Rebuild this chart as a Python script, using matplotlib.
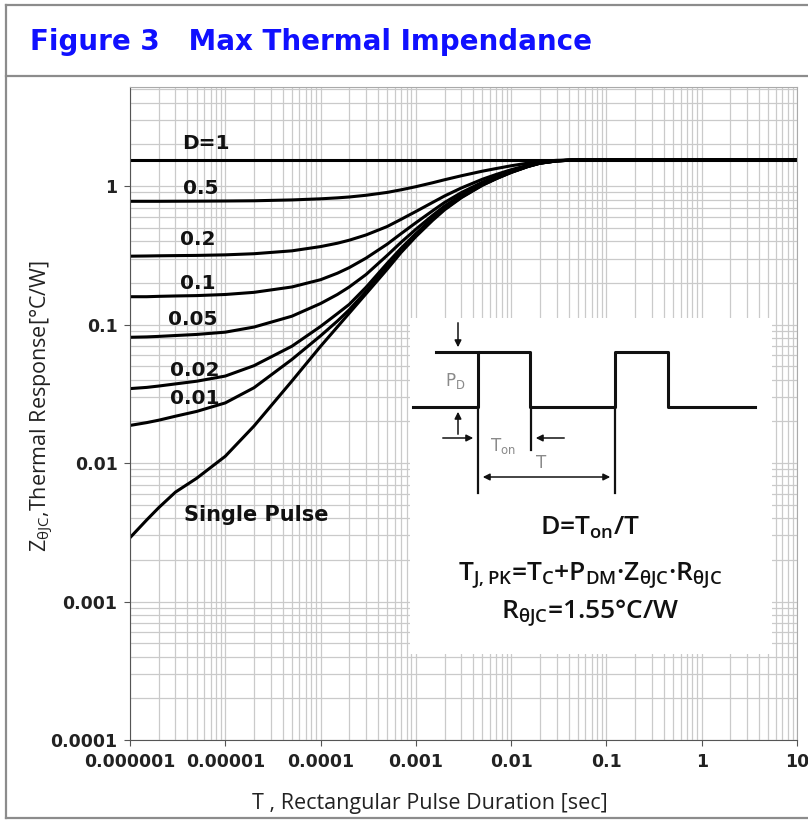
import numpy as np
import matplotlib
matplotlib.use("Agg")
import matplotlib.pyplot as plt
from matplotlib.ticker import LogLocator, NullFormatter
from matplotlib.patches import Rectangle

plt.rcParams['mathtext.default'] = 'regular'

# pulse duration [s]
t_pts = [1e-6, 1.5e-6, 2e-6, 3e-6, 5e-6, 1e-5, 2e-5, 5e-5, 1e-4, 1.5e-4, 2e-4, 3e-4, 5e-4,
         7e-4, 1e-3, 1.5e-3, 2e-3, 3e-3, 5e-3, 7e-3, 1e-2, 1.5e-2, 2e-2, 3e-2, 5e-2, 10]

# thermal response Z [°C/W] per duty cycle
z_d1 = [1.55] * len(t_pts)
z_d05 = [0.777, 0.777, 0.777, 0.778, 0.779, 0.781, 0.784, 0.795, 0.810, 0.823, 0.835, 0.859, 0.901,
         0.941, 0.991, 1.058, 1.112, 1.188, 1.283, 1.341, 1.403, 1.467, 1.506, 1.536, 1.550, 1.55]
z_d02 = [0.312, 0.313, 0.314, 0.315, 0.316, 0.319, 0.325, 0.341, 0.366, 0.387, 0.407, 0.444, 0.511,
         0.576, 0.656, 0.763, 0.849, 0.970, 1.122, 1.216, 1.314, 1.417, 1.480, 1.527, 1.549, 1.55]
z_d01 = [0.159, 0.159, 0.160, 0.161, 0.162, 0.165, 0.171, 0.187, 0.211, 0.235, 0.258, 0.302, 0.381,
         0.454, 0.544, 0.664, 0.762, 0.898, 1.069, 1.174, 1.285, 1.402, 1.472, 1.525, 1.549, 1.55]
z_d005 = [0.081, 0.0815, 0.0822, 0.0834, 0.0849, 0.0882, 0.096, 0.115, 0.142, 0.165, 0.187, 0.230, 0.316,
          0.393, 0.488, 0.615, 0.718, 0.861, 1.042, 1.153, 1.270, 1.392, 1.466, 1.522, 1.549, 1.55]
z_d002 = [0.0345, 0.0352, 0.036, 0.0373, 0.039, 0.0425, 0.0505, 0.0698, 0.097, 0.120, 0.140, 0.186, 0.277,
          0.356, 0.454, 0.586, 0.692, 0.840, 1.026, 1.140, 1.261, 1.390, 1.466, 1.522, 1.549, 1.55]
z_d001 = [0.0187, 0.0196, 0.0204, 0.0218, 0.0236, 0.0272, 0.035, 0.056, 0.083, 0.106, 0.128, 0.174, 0.264,
          0.344, 0.443, 0.576, 0.683, 0.832, 1.020, 1.136, 1.258, 1.387, 1.464, 1.521, 1.549, 1.55]
z_single = [0.00289, 0.00389, 0.00476, 0.00617, 0.00776, 0.0112, 0.0185, 0.0391, 0.0697, 0.0962, 0.121,
            0.167, 0.251, 0.332, 0.432, 0.566, 0.674, 0.825, 1.015, 1.132, 1.255, 1.384, 1.462, 1.521,
            1.549, 1.55]

curves = [z_d1, z_d05, z_d02, z_d01, z_d005, z_d002, z_d001, z_single]

# curve labels: text, x, y (data coords)
label_txt = ["D=1", "0.5", "0.2", "0.1", "0.05", "0.02", "0.01", "Single Pulse"]
label_x = [6.2e-6, 5.5e-6, 5.1e-6, 5.1e-6, 4.6e-6, 4.8e-6, 4.8e-6, 2.1e-5]
label_y = [2.04, 0.967, 0.414, 0.1995, 0.108, 0.0469, 0.0295, 0.0042]

x_ticks = [1e-6, 1e-5, 1e-4, 1e-3, 1e-2, 1e-1, 1, 10]
x_tick_labels = ["0.000001", "0.00001", "0.0001", "0.001", "0.01", "0.1", "1", "10"]
y_ticks = [1e-4, 1e-3, 1e-2, 1e-1, 1]
y_tick_labels = ["0.0001", "0.001", "0.01", "0.1", "1"]

W, H = 808, 821
fig = plt.figure(figsize=(W / 100, H / 100), dpi=100)
fig.patch.set_facecolor('white')

ax = fig.add_axes([130 / W, 1 - 740 / H, 667 / W, 653 / H])
for z in curves:
    ax.plot(t_pts, z, color='black', lw=2.2, solid_joinstyle='round')

ax.set_xscale('log')
ax.set_yscale('log')
ax.set_xlim(1e-6, 10)
ax.set_ylim(1e-4, 5.2)
ax.xaxis.set_minor_locator(LogLocator(base=10, subs=np.arange(2, 10), numticks=100))
ax.yaxis.set_minor_locator(LogLocator(base=10, subs=np.arange(2, 10), numticks=100))
ax.xaxis.set_minor_formatter(NullFormatter())
ax.yaxis.set_minor_formatter(NullFormatter())
ax.set_xticks(x_ticks, x_tick_labels)
ax.set_yticks(y_ticks, y_tick_labels)
ax.grid(which='both', color='#cacaca', lw=0.9)
ax.set_axisbelow(True)
ax.tick_params(which='major', direction='out', length=4, color='#555555',
               labelsize=12.5, pad=5)
ax.tick_params(which='minor', length=0)
for lab in ax.get_xticklabels() + ax.get_yticklabels():
    lab.set_fontweight('bold')
    lab.set_color('#222222')
for s in ['left', 'bottom']:
    ax.spines[s].set_color('#555555')
for s in ['top', 'right']:
    ax.spines[s].set_color('#aaaaaa')

for txt, lx, ly in zip(label_txt, label_x, label_y):
    fs = 15 if txt == "Single Pulse" else 14.5
    ax.text(lx, ly, txt, ha='center', va='center', fontsize=fs,
            fontweight='bold', color='#111111', zorder=4)

# overlay in pixel coords for frame, title and pulse diagram
ov = fig.add_axes([0, 0, 1, 1], zorder=5)
ov.set_xlim(0, W)
ov.set_ylim(H, 0)
ov.axis('off')
ov.patch.set_alpha(0)

frame = dict(color='#8c8c8c', lw=1.6)
ov.plot([6, 6], [5, 818], **frame)
ov.plot([6, W], [5, 5], **frame)
ov.plot([6, W], [818, 818], **frame)
ov.plot([6, W], [76, 76], **frame)

ov.text(30, 42, "Figure 3   Max Thermal Impendance", fontsize=20,
        fontweight='bold', color='#1010ff', ha='left', va='center')

fig.text(430 / W, 1 - 803 / H, "T , Rectangular Pulse Duration [sec]",
         family='Open Sans', fontsize=15.5, ha='center', va='center',
         color='#222222')
fig.text(42 / W, 1 - 406 / H, "Z$_{θJC}$,Thermal Response[°C/W]",
         family='Open Sans', fontsize=15.5, rotation=90, ha='center',
         va='center', color='#222222')

# white inset with pulse diagram
ov.add_patch(Rectangle((410, 318), 362, 336, facecolor='white', edgecolor='none'))
wave_x = [413, 478, 478, 530, 530, 615, 615, 668, 668, 755]
wave_y = [407, 407, 352, 352, 407, 407, 352, 352, 407, 407]
lk = dict(color='#111111', lw=2.2)
ov.plot(wave_x, wave_y, **lk)
ov.plot([436, 478], [352, 352], **lk)
ov.plot([478, 478], [407, 493], color='#111111', lw=1.6)
ov.plot([531, 531], [407, 450], color='#111111', lw=1.6)
ov.plot([615, 615], [407, 493], color='#111111', lw=1.6)

arr = dict(arrowstyle='-|>', color='#111111', lw=1.1, mutation_scale=10)
ov.annotate('', xy=(458, 350), xytext=(458, 320), arrowprops=arr)
ov.annotate('', xy=(458, 409), xytext=(458, 437), arrowprops=arr)
ov.annotate('', xy=(476, 438), xytext=(440, 438), arrowprops=arr)
ov.annotate('', xy=(533, 438), xytext=(567, 438), arrowprops=arr)
ov.annotate('', xy=(613, 477), xytext=(480, 477),
            arrowprops=dict(arrowstyle='<|-|>', color='#111111', lw=1.1,
                            mutation_scale=10))

gray = '#8a8a8a'
ov.text(455, 381, "P$_D$", fontsize=12, color=gray, ha='center', va='center')
ov.text(503, 446, "T$_{on}$", fontsize=12, color=gray, ha='center', va='center')
ov.text(541, 463, "T", fontsize=12, color=gray, ha='center', va='center')

eq = dict(family='Open Sans', fontsize=19, fontweight='semibold', color='#111111',
          ha='center', va='center')
ov.text(590, 528, "D=T$_{on}$/T", **eq)
ov.text(590, 576, "T$_{J,PK}$=T$_C$+P$_{DM}$·Z$_{θJC}$·R$_{θJC}$", **eq)
ov.text(590, 613, "R$_{θJC}$=1.55°C/W", **eq)

fig.savefig("out.png", dpi=100, facecolor='white')
